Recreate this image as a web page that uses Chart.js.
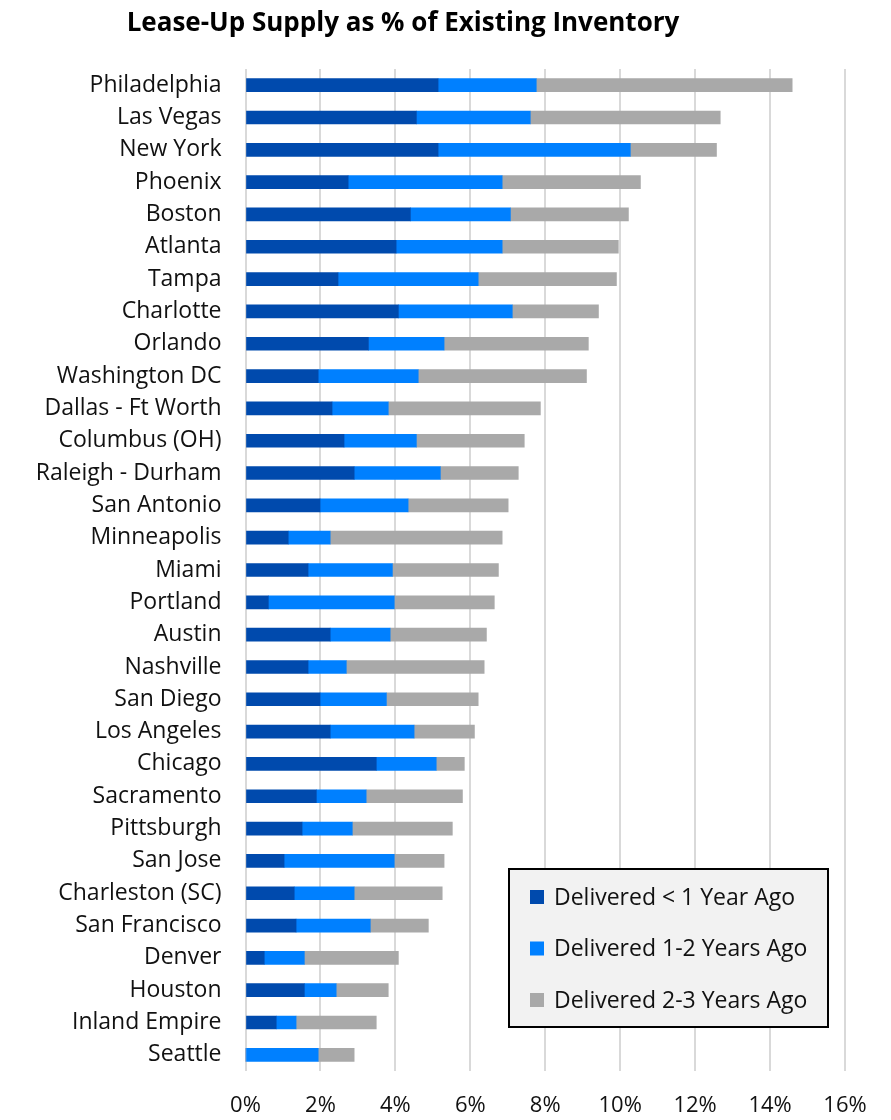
<!DOCTYPE html>
<html>
<head>
<meta charset="utf-8">
<title>Lease-Up Supply as % of Existing Inventory</title>
<script src="https://cdn.jsdelivr.net/npm/chart.js@4.4.1/dist/chart.umd.min.js"></script>
<style>
    html, body { margin: 0; padding: 0; background: #fff; }
    #chart { display: block; }
</style>
</head>
<body>
<canvas id="chart" width="891" height="1120"></canvas>
<script>
// 1. Data
const markets = [
    'Philadelphia', 'Las Vegas', 'New York', 'Phoenix', 'Boston', 'Atlanta', 'Tampa',
    'Charlotte', 'Orlando', 'Washington DC', 'Dallas - Ft Worth', 'Columbus (OH)',
    'Raleigh - Durham', 'San Antonio', 'Minneapolis', 'Miami', 'Portland', 'Austin',
    'Nashville', 'San Diego', 'Los Angeles', 'Chicago', 'Sacramento', 'Pittsburgh',
    'San Jose', 'Charleston (SC)', 'San Francisco', 'Denver', 'Houston',
    'Inland Empire', 'Seattle'
];

// share of existing inventory, in %
const under1Year = [
    5.14, 4.56, 5.14, 2.74, 4.40, 4.02, 2.47,
    4.08, 3.28, 1.94, 2.31, 2.63,
    2.90, 1.99, 1.14, 1.67, 0.61, 2.26,
    1.67, 1.99, 2.26, 3.49, 1.89, 1.51,
    1.03, 1.30, 1.35, 0.50, 1.57,
    0.82, 0.00
];
const oneToTwoYears = [
    2.62, 3.04, 5.13, 4.11, 2.67, 2.83, 3.74,
    3.04, 2.02, 2.67, 1.50, 1.93,
    2.30, 2.35, 1.12, 2.25, 3.36, 1.60,
    1.02, 1.77, 2.24, 1.60, 1.33, 1.34,
    2.94, 1.60, 1.98, 1.07, 0.85,
    0.53, 1.94
];
const twoToThreeYears = [
    6.83, 5.07, 2.30, 3.69, 3.15, 3.10, 3.69,
    2.30, 3.85, 4.49, 4.06, 2.88,
    2.08, 2.67, 4.59, 2.83, 2.67, 2.57,
    3.68, 2.45, 1.61, 0.75, 2.57, 2.67,
    1.33, 2.35, 1.55, 2.51, 1.39,
    2.14, 0.96
];

const seriesNames = ['Delivered < 1 Year Ago', 'Delivered 1-2 Years Ago', 'Delivered 2-3 Years Ago'];
const xTicks = [0, 2, 4, 6, 8, 10, 12, 14, 16];

// 2. Styling
const COLORS = ['#004AAD', '#0080FF', '#A9A9A9'];
const FONT = "'Open Sans', 'Noto Sans', sans-serif";
const TEXT = '#111111';

// 3. Title + boxed legend drawn in the free space of the canvas
const overlayPlugin = {
    id: 'overlay',
    afterDraw(chart) {
        const ctx = chart.ctx;
        ctx.save();

        ctx.fillStyle = '#000';
        ctx.font = `bold 26px ${FONT}`;
        ctx.textAlign = 'center';
        ctx.textBaseline = 'middle';
        ctx.fillText('Lease-Up Supply as % of Existing Inventory', 403, 24);

        const box = { x: 509, y: 869, w: 319, h: 158 };
        ctx.fillStyle = '#F2F2F2';
        ctx.fillRect(box.x, box.y, box.w, box.h);
        ctx.strokeStyle = '#000';
        ctx.lineWidth = 2;
        ctx.strokeRect(box.x, box.y, box.w, box.h);

        ctx.font = `23px ${FONT}`;
        ctx.textAlign = 'left';
        chart.data.datasets.forEach((ds, i) => {
            const cy = box.y + 28 + i * 51.5;
            ctx.fillStyle = ds.backgroundColor;
            ctx.fillRect(box.x + 21, cy - 7, 14, 14);
            ctx.fillStyle = TEXT;
            ctx.fillText(ds.label, box.x + 45, cy + 1);
        });
        ctx.restore();
    }
};

// 4. Chart
new Chart(document.getElementById('chart'), {
    type: 'bar',
    data: {
        labels: markets,
        datasets: [under1Year, oneToTwoYears, twoToThreeYears].map((values, i) => ({
            label: seriesNames[i],
            data: values,
            backgroundColor: COLORS[i],
            borderWidth: 0,
            barThickness: 13
        }))
    },
    options: {
        indexAxis: 'y',
        responsive: false,
        animation: false,
        devicePixelRatio: 1,
        layout: { padding: { top: 69, right: 46, left: 0, bottom: 0 } },
        plugins: {
            legend: { display: false },
            title: { display: false },
            tooltip: { enabled: false }
        },
        scales: {
            x: {
                stacked: true,
                min: 0,
                max: 16,
                afterBuildTicks: (scale) => { scale.ticks = xTicks.map(v => ({ value: v })); },
                afterFit: (scale) => { scale.height = 1120 - 1071; },
                grid: { color: '#D9D9D9', lineWidth: 2, drawTicks: false },
                border: { display: false },
                ticks: {
                    padding: 22,
                    color: TEXT,
                    font: { family: FONT, size: 22 },
                    callback: (v) => v + '%'
                }
            },
            y: {
                stacked: true,
                afterFit: (scale) => { scale.width = 245.5; },
                grid: { display: false, drawTicks: false },
                border: { display: false },
                ticks: {
                    padding: 24,
                    autoSkip: false,
                    color: TEXT,
                    font: { family: FONT, size: 23 }
                }
            }
        }
    },
    plugins: [overlayPlugin]
});
</script>
</body>
</html>
